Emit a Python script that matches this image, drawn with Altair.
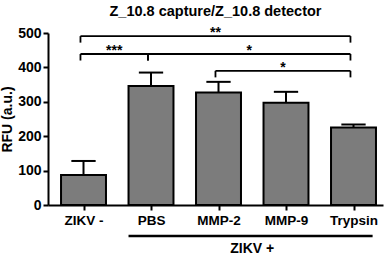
import altair as alt
import pandas as pd

# ---- data ----
categories = ["ZIKV -", "PBS", "MMP-2", "MMP-9", "Trypsin"]
means = [87, 346, 327, 297, 225]
errors = [41, 39, 31, 32, 9]

br_start = ["ZIKV -", "ZIKV -", "PBS", "MMP-2"]
br_end = ["Trypsin", "PBS", "Trypsin", "Trypsin"]
br_level = [491, 439, 439, 390]
br_label = ["**", "***", "*", "*"]

group_start = "PBS"
group_end = "Trypsin"
group_label = "ZIKV +"

title_text = "Z_10.8 capture/Z_10.8 detector"
y_title = "RFU (a.u.)"
y_ticks = [0, 100, 200, 300, 400, 500]

# ---- tables ----
idx = {c: i for i, c in enumerate(categories)}
HALF = 0.333      # half bar width (in category units)
CAP = 0.18        # half error-cap width
DROP = 19         # bracket tick length (data units)
SHIFT = -0.045    # brackets sit slightly left of bar centres

bars = pd.DataFrame({"cat": categories, "pos": list(range(len(categories))),
                     "mean": means, "err": errors})
bars["x0"] = bars["pos"] - HALF
bars["x1"] = bars["pos"] + HALF
bars["top"] = bars["mean"] + bars["err"]
bars["c0"] = bars["pos"] - CAP
bars["c1"] = bars["pos"] + CAP
bars["zero"] = 0

brk = pd.DataFrame({"s": [idx[c] + SHIFT for c in br_start],
                    "e": [idx[c] + SHIFT for c in br_end],
                    "lvl": br_level, "lab": br_label})
brk["mid"] = (brk["s"] + brk["e"]) / 2
brk["low"] = brk["lvl"] - DROP
ticks = pd.concat([
    pd.DataFrame({"x": brk["s"], "y": brk["lvl"], "y2": brk["low"]}),
    pd.DataFrame({"x": brk["e"], "y": brk["lvl"], "y2": brk["low"]}),
])

grp = pd.DataFrame({"s": [idx[group_start] - HALF], "e": [idx[group_end] + HALF - 0.05],
                    "lab": [group_label]})
grp["mid"] = (idx[group_start] + idx[group_end]) / 2
grp["ly"] = -90
grp["ty"] = -128

# ---- scales ----
xs = alt.Scale(domain=[-0.526, 4.437], nice=False, zero=False)
ys = alt.Scale(domain=[0, 500], nice=False, zero=False)
label_expr = "[" + ",".join("'" + c + "'" for c in categories) + "][datum.value]"

FONT = "Liberation Sans"


def X(f, **kw):
    kw.setdefault("axis", None)
    return alt.X(f, scale=xs, **kw)


def Y(f, **kw):
    kw.setdefault("axis", None)
    return alt.Y(f, scale=ys, **kw)


xaxis = alt.Axis(values=list(range(len(categories))), labelExpr=label_expr, title=None,
                 labelFlush=False, labelOverlap=False, labelPadding=3, tickSize=5,
                 labelFontSize=13.5)
yaxis = alt.Axis(values=y_ticks, title=y_title, tickSize=5, labelPadding=2,
                 titlePadding=3, labelOverlap=False, labelFlush=False,
                 labelFontSize=14, titleFontSize=14)

base_bar = alt.Chart(bars)
bar_layer = base_bar.mark_bar(fill="#7c7c7c", stroke="black", strokeWidth=2).encode(
    x=X("x0:Q", axis=xaxis), x2="x1:Q",
    y=Y("mean:Q", axis=yaxis), y2="zero:Q",
)
err_stem = base_bar.mark_rule(color="black", strokeWidth=2).encode(
    x=X("pos:Q"), y=Y("mean:Q"), y2="top:Q")
err_cap = base_bar.mark_rule(color="black", strokeWidth=2).encode(
    x=X("c0:Q"), x2="c1:Q", y=Y("top:Q"))

br_h = alt.Chart(brk).mark_rule(color="black", strokeWidth=1.8).encode(
    x=X("s:Q"), x2="e:Q", y=Y("lvl:Q"))
br_v = alt.Chart(ticks).mark_rule(color="black", strokeWidth=1.8).encode(
    x=X("x:Q"), y=Y("y:Q"), y2="y2:Q")
br_t = alt.Chart(brk).mark_text(font=FONT, fontWeight="bold", fontSize=14,
                                baseline="alphabetic", dy=1, color="black").encode(
    x=X("mid:Q"), y=Y("lvl:Q"), text="lab:N")

grp_line = alt.Chart(grp).mark_rule(color="black", strokeWidth=2.5).encode(
    x=X("s:Q"), x2="e:Q", y=Y("ly:Q"))
grp_text = alt.Chart(grp).mark_text(font=FONT, fontWeight="bold", fontSize=14,
                                    baseline="middle", color="black").encode(
    x=X("mid:Q"), y=Y("ty:Q"), text="lab:N")

chart = alt.layer(bar_layer, err_stem, err_cap, br_h, br_v, br_t, grp_line, grp_text).resolve_axis(
    x="independent", y="independent"
).properties(
    width=335, height=172,
    title=alt.TitleParams(title_text, font=FONT, fontSize=14.5, fontWeight="bold",
                          color="black", anchor="middle", offset=7),
    autosize=alt.AutoSizeParams(type="none"),
    padding={"left": 48, "top": 33, "right": 8, "bottom": 51},
    background="white",
).configure_view(stroke=None).configure_axis(
    grid=False, domainColor="black", domainWidth=2, tickColor="black", tickWidth=2,
    labelFont=FONT, labelFontWeight="bold", labelFontSize=13, labelColor="black",
    titleFont=FONT, titleFontWeight="bold", titleFontSize=13, titleColor="black",
)

chart.save("out.html", embed_options={"renderer": "svg", "actions": False})
